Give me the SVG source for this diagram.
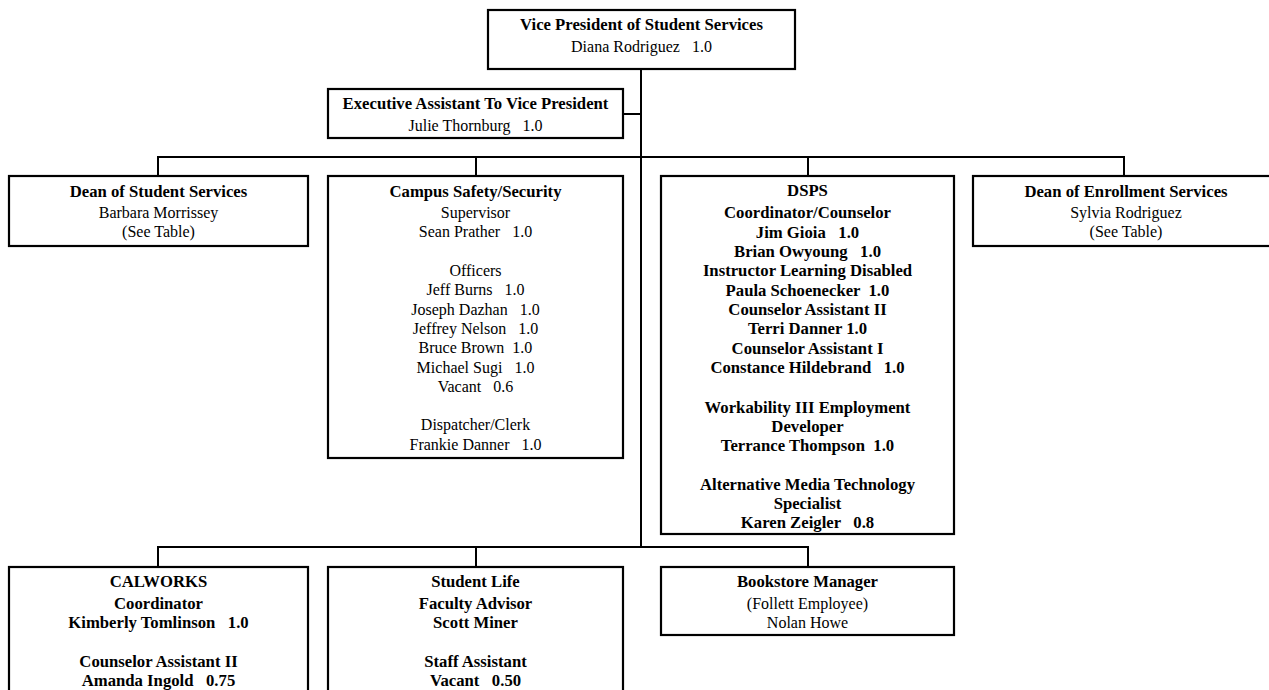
<svg xmlns="http://www.w3.org/2000/svg" width="1269" height="690" viewBox="0 0 1269 690">
<style>
.box{fill:#fff;stroke:#000;stroke-width:2.2}
.ln{fill:none;stroke:#000;stroke-width:2}
text{font-family:"Liberation Serif","Times New Roman",serif;font-size:16px;fill:#000;text-anchor:middle;white-space:pre}
.b{font-weight:bold;font-size:16.7px}
</style>
<rect width="1269" height="690" fill="#fff"/>
<g id="connectors">
<path class="ln" d="M641 69V547M623 114H641M158 176V157H1124V176M476 157V176M808 157V176M158 567V547H808V567M476 547V567"/>
</g>
<g id="vp">
<rect class="box" x="488" y="10" width="307" height="59"/>
<text class="b" x="641.5" y="30">Vice President of Student Services</text>
<text x="641.5" y="52">Diana Rodriguez   1.0</text>
</g>
<g id="exec">
<rect class="box" x="328" y="89" width="295" height="49"/>
<text class="b" x="475.5" y="109">Executive Assistant To Vice President</text>
<text x="475.5" y="131">Julie Thornburg   1.0</text>
</g>
<g id="dean-student">
<rect class="box" x="9" y="176" width="299" height="70"/>
<text class="b" x="158.5" y="197">Dean of Student Services</text>
<text x="158.5" y="218">Barbara Morrissey</text>
<text x="158.5" y="237">(See Table)</text>
</g>
<g id="campus-safety">
<rect class="box" x="328" y="176" width="295" height="282"/>
<text class="b" x="475.5" y="197">Campus Safety/Security</text>
<text x="475.5" y="218">Supervisor</text>
<text x="475.5" y="237.3">Sean Prather   1.0</text>
<text x="475.5" y="276">Officers</text>
<text x="475.5" y="295.3">Jeff Burns   1.0</text>
<text x="475.5" y="314.6">Joseph Dazhan   1.0</text>
<text x="475.5" y="333.9">Jeffrey Nelson   1.0</text>
<text x="475.5" y="353.2">Bruce Brown  1.0</text>
<text x="475.5" y="372.5">Michael Sugi   1.0</text>
<text x="475.5" y="391.8">Vacant   0.6</text>
<text x="475.5" y="430.4">Dispatcher/Clerk</text>
<text x="475.5" y="449.7">Frankie Danner   1.0</text>
</g>
<g id="dsps">
<rect class="box" x="661" y="176" width="293" height="358"/>
<text class="b" x="807.5" y="196">DSPS</text>
<text class="b" x="807.5" y="218">Coordinator/Counselor</text>
<text class="b" x="807.5" y="237.5">Jim Gioia   1.0</text>
<text class="b" x="807.5" y="257">Brian Owyoung   1.0</text>
<text class="b" x="807.5" y="276.3">Instructor Learning Disabled</text>
<text class="b" x="807.5" y="295.7">Paula Schoenecker  1.0</text>
<text class="b" x="807.5" y="315">Counselor Assistant II</text>
<text class="b" x="807.5" y="334.3">Terri Danner 1.0</text>
<text class="b" x="807.5" y="353.6">Counselor Assistant I</text>
<text class="b" x="807.5" y="373">Constance Hildebrand   1.0</text>
<text class="b" x="807.5" y="412.5">Workability III Employment</text>
<text class="b" x="807.5" y="432">Developer</text>
<text class="b" x="807.5" y="451.3">Terrance Thompson  1.0</text>
<text class="b" x="807.5" y="490">Alternative Media Technology</text>
<text class="b" x="807.5" y="509">Specialist</text>
<text class="b" x="807.5" y="528">Karen Zeigler   0.8</text>
</g>
<g id="dean-enrollment">
<rect class="box" x="973" y="176" width="305" height="70"/>
<text class="b" x="1126" y="197">Dean of Enrollment Services</text>
<text x="1126" y="218">Sylvia Rodriguez</text>
<text x="1126" y="237">(See Table)</text>
</g>
<g id="calworks">
<rect class="box" x="9" y="567" width="299" height="140"/>
<text class="b" x="158.5" y="587">CALWORKS</text>
<text class="b" x="158.5" y="609">Coordinator</text>
<text class="b" x="158.5" y="628">Kimberly Tomlinson   1.0</text>
<text class="b" x="158.5" y="667">Counselor Assistant II</text>
<text class="b" x="158.5" y="686">Amanda Ingold   0.75</text>
</g>
<g id="student-life">
<rect class="box" x="328" y="567" width="295" height="140"/>
<text class="b" x="475.5" y="587">Student Life</text>
<text class="b" x="475.5" y="609">Faculty Advisor</text>
<text class="b" x="475.5" y="628">Scott Miner</text>
<text class="b" x="475.5" y="667">Staff Assistant</text>
<text class="b" x="475.5" y="686">Vacant   0.50</text>
</g>
<g id="bookstore">
<rect class="box" x="661" y="567" width="293" height="68"/>
<text class="b" x="807.5" y="587">Bookstore Manager</text>
<text x="807.5" y="608.5">(Follett Employee)</text>
<text x="807.5" y="628">Nolan Howe</text>
</g>
</svg>
